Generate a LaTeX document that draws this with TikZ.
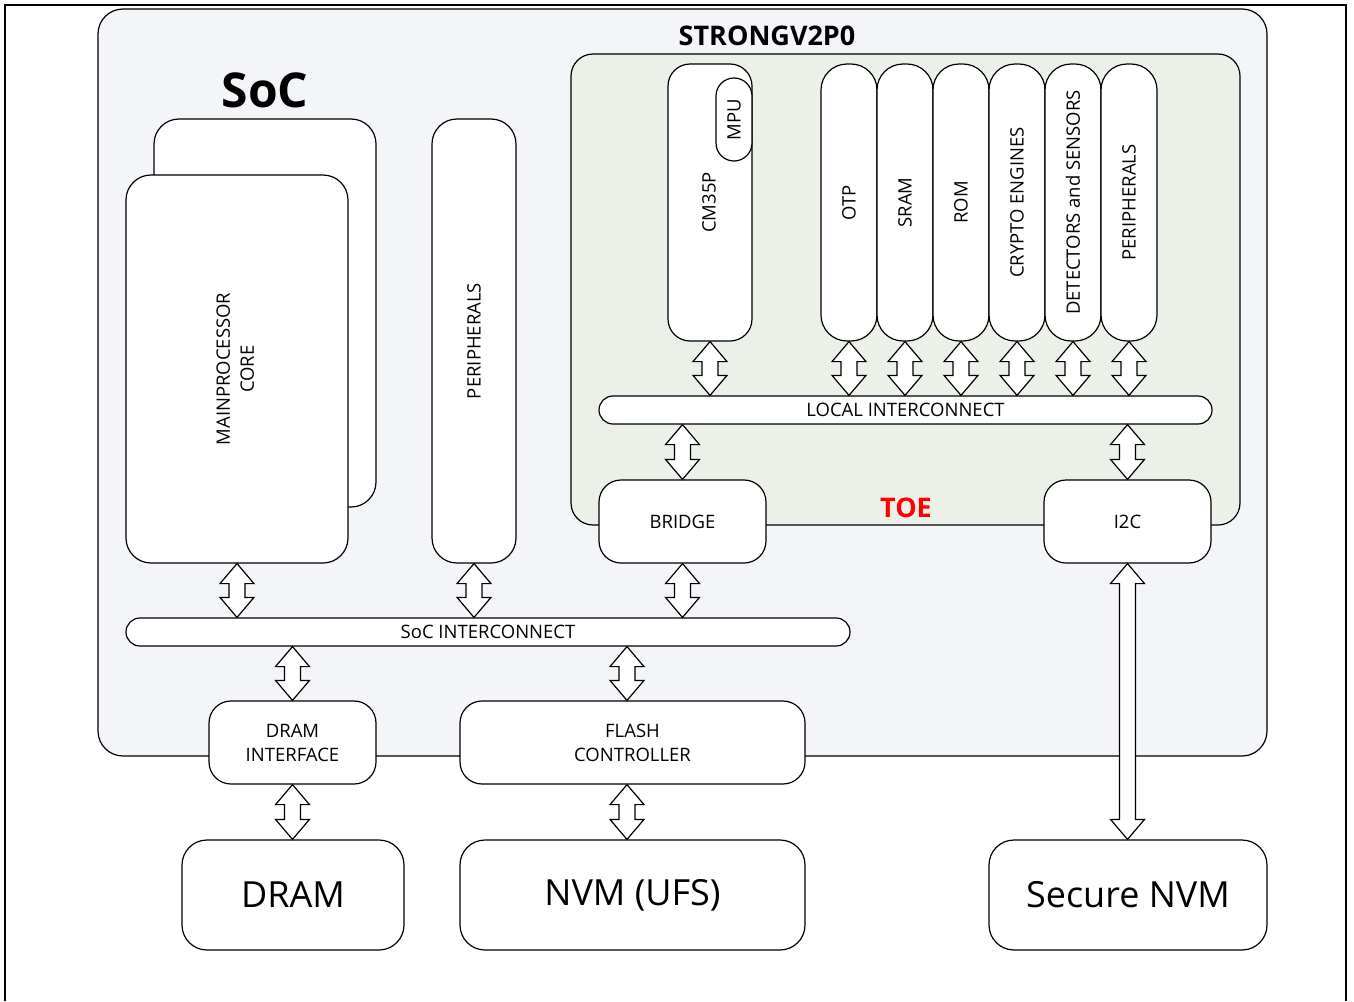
\documentclass[tikz,border=0pt]{standalone}
\usepackage{fontspec}
\setmainfont{Open Sans}
\usetikzlibrary{calc}
\definecolor{socfill}{RGB}{244,245,249}
\definecolor{toefill}{RGB}{235,240,233}
\definecolor{toered}{RGB}{255,0,0}
\tikzset{
  blk/.style = {draw=black, fill=white, line width=1.2pt, rounded corners=22pt,
    inner sep=0pt, align=center, font=\fontsize{18.5}{24}\selectfont},
  bigblk/.style = {blk, rounded corners=25pt, minimum height=110pt,
    font=\fontsize{36}{40}\selectfont},
  column/.style = {blk, rounded corners=26pt, minimum width=56pt,
    minimum height=277pt},% toe column
  bus/.style = {blk, rounded corners=14pt, minimum height=28pt},
  area/.style = {draw=black, line width=1.2pt, inner sep=0pt},
  title/.style = {font=\bfseries\fontsize{27}{30}\selectfont},
  busarrow/.style = {draw=black, fill=white, line width=1.2pt}
}
% double block arrow, x taken from #1
\newcommand{\busarrow}[2]{%
  \draw[busarrow] let \p1=(#1), \p2=(#2) in
    (\x1,\y1) -- ++(17pt,-20pt) -- ++(-9pt,0pt) -- (\x1+8pt,\y2+20pt)
    -- ++(9pt,0pt) -- (\x1,\y2) -- ++(-17pt,20pt) -- ++(9pt,0pt)
    -- (\x1-8pt,\y1-20pt) -- ++(-9pt,0pt) -- cycle;}
\newcommand{\vtext}[1]{\rotatebox{90}{#1}}

\begin{document}
\begin{tikzpicture}[x=1pt, y=-1pt]
  \useasboundingbox (0,0) rectangle (1354,1001);
  \draw[line width=2pt] (5,1001) -- (5,5) -- (1346,5) -- (1346,1001);

  % SoC
  \node[area, fill=socfill, rounded corners=25pt, minimum width=1169pt,
    minimum height=747pt] (soc) at (682.5,382.5) {};
  \node[font=\bfseries\fontsize{48}{50}\selectfont] (socname) at (265,90) {SoC};
  \node[title] (strong) at (767,36) {STRONGV2P0};

  % TOE
  \node[area, fill=toefill, rounded corners=22pt, minimum width=669pt,
    minimum height=471pt] (toe) at (905.5,289.5) {};
  \node[title, text=toered] (toename) at (906,508) {TOE};

  \node[blk, rounded corners=25pt, minimum width=222pt, minimum height=388pt]
    (coreback) at (265,313) {};
  \node[blk, rounded corners=25pt, minimum width=222pt, minimum height=388pt]
    (core) at (237,369)
    {\vtext{\begin{tabular}{@{}c@{}}MAINPROCESSOR\\CORE\end{tabular}}};
  \node[blk, rounded corners=25pt, minimum width=84pt, minimum height=444pt]
    (socperi) at (474,341) {\vtext{PERIPHERALS}};

  \node[blk, minimum width=84pt, minimum height=277pt] (cm) at (710,202.5)
    {\hspace*{-2pt}\vtext{CM35P}};
  \node[blk, rounded corners=18pt, minimum width=36pt, minimum height=83pt]
    (mpu) at (734,119.5) {\vtext{MPU}};
  \foreach \name/\txt [count=\i from 0] in {otp/OTP, sram/SRAM, rom/ROM,
      crypto/CRYPTO ENGINES, detect/DETECTORS and SENSORS, toeperi/PERIPHERALS}
    \node[column] (\name) at ({849+56*\i},202.5) {\vtext{\txt}};

  \node[bus, minimum width=613pt] (localbus) at (905.5,410) {LOCAL INTERCONNECT};
  \node[blk, minimum width=167pt, minimum height=83pt] (bridge) at (682.5,521.5) {BRIDGE};
  \node[blk, minimum width=167pt, minimum height=83pt] (itwoc) at (1127.5,521.5) {I2C};

  \node[bus, minimum width=724pt] (socbus) at (488,632) {SoC INTERCONNECT};
  \node[blk, minimum width=167pt, minimum height=83pt] (dramif) at (292.5,742.5)
    {DRAM\\INTERFACE};
  \node[blk, minimum width=345pt, minimum height=83pt] (flash) at (632.5,742.5)
    {FLASH\\CONTROLLER};

  \node[bigblk, minimum width=222pt] (dram) at (293,895) {DRAM};
  \node[bigblk, minimum width=345pt] (nvm) at (632.5,895) {NVM (UFS)};
  \node[bigblk, minimum width=278pt] (snvm) at (1128,895) {Secure NVM};

  % arrows
  \foreach \name in {cm, otp, sram, rom, crypto, detect, toeperi}
    \busarrow{\name.south}{localbus.north};
  \busarrow{localbus.south -| bridge.north}{bridge.north}
  \busarrow{localbus.south -| itwoc.north}{itwoc.north}
  \busarrow{core.south}{socbus.north}
  \busarrow{socperi.south}{socbus.north}
  \busarrow{bridge.south}{socbus.north}
  \busarrow{socbus.south -| dramif.north}{dramif.north}
  \busarrow{socbus.south -| 627,0}{flash.north}
  \busarrow{dramif.south}{dram.north}
  \busarrow{flash.south -| 627,0}{nvm.north}
  \busarrow{itwoc.south}{snvm.north}
\end{tikzpicture}
\end{document}
